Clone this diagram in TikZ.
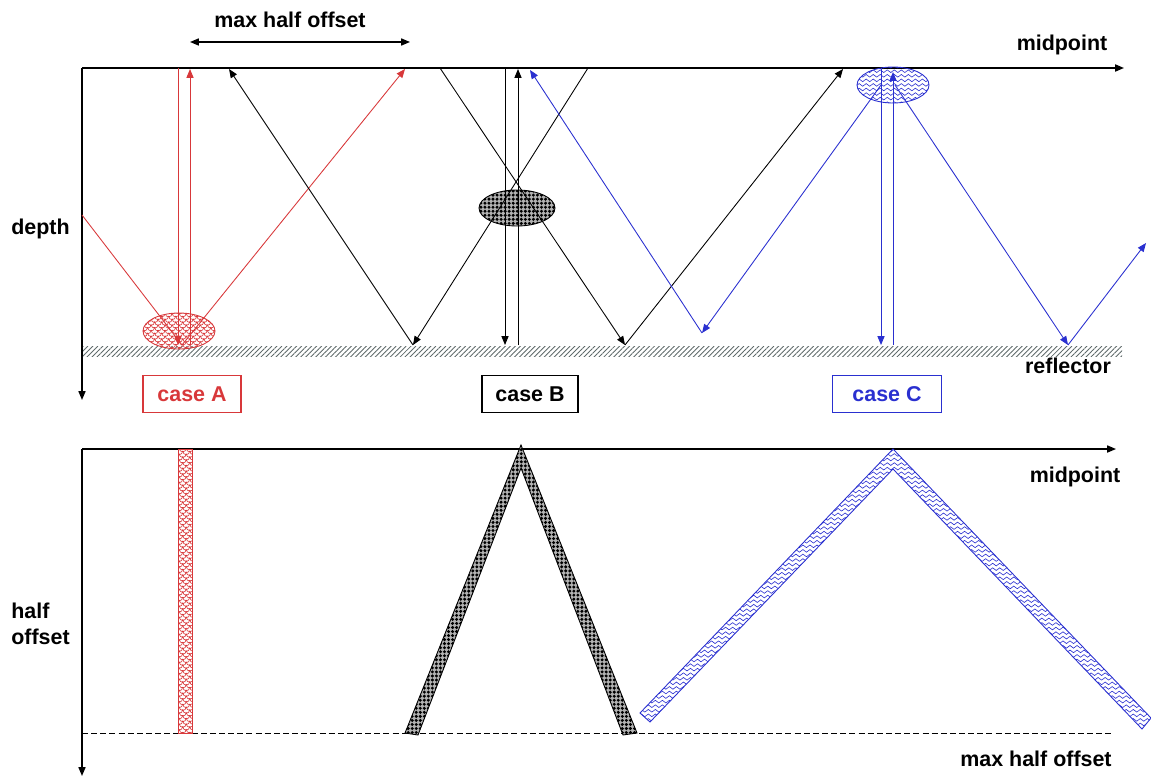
\documentclass[tikz,border=0pt]{standalone}
\usepackage{fontspec}
\setmainfont{Liberation Sans}
\usepackage{xcolor}
\usepackage{tikz}
\usetikzlibrary{arrows.meta,patterns,patterns.meta,calc}
\definecolor{casered}{HTML}{D8383A}
\definecolor{caseblue}{HTML}{2A30D0}
\definecolor{hatchgray}{HTML}{5F6A6A}
% fill patterns for the three cases
\pgfdeclarepatternformonly{scales}{\pgfpoint{-0.5pt}{-0.5pt}}{\pgfpoint{4.5pt}{4.5pt}}{\pgfpoint{4pt}{3.2pt}}{%
  \pgfsetlinewidth{0.35pt}
  \pgfpathmoveto{\pgfpoint{0pt}{3.2pt}}
  \pgfpathcurveto{\pgfpoint{0pt}{0.4pt}}{\pgfpoint{4pt}{0.4pt}}{\pgfpoint{4pt}{3.2pt}}
  \pgfpathmoveto{\pgfpoint{2pt}{1.6pt}}
  \pgfpathcurveto{\pgfpoint{2pt}{-1.2pt}}{\pgfpoint{6pt}{-1.2pt}}{\pgfpoint{6pt}{1.6pt}}
  \pgfpathmoveto{\pgfpoint{-2pt}{1.6pt}}
  \pgfpathcurveto{\pgfpoint{-2pt}{-1.2pt}}{\pgfpoint{2pt}{-1.2pt}}{\pgfpoint{2pt}{1.6pt}}
  \pgfusepath{stroke}}
\pgfdeclarepatternformonly{waves}{\pgfpoint{-0.5pt}{-0.5pt}}{\pgfpoint{4.5pt}{3pt}}{\pgfpoint{4pt}{2.6pt}}{%
  \pgfsetlinewidth{0.35pt}
  \pgfpathmoveto{\pgfpoint{0pt}{1.3pt}}
  \pgfpathcurveto{\pgfpoint{1pt}{2.3pt}}{\pgfpoint{1pt}{2.3pt}}{\pgfpoint{2pt}{1.3pt}}
  \pgfpathcurveto{\pgfpoint{3pt}{0.3pt}}{\pgfpoint{3pt}{0.3pt}}{\pgfpoint{4pt}{1.3pt}}
  \pgfusepath{stroke}}

\begin{document}
\begin{tikzpicture}[x=0.02cm, y=-0.02cm, >={Triangle[length=5pt,width=4pt]},
  lbl/.style={font=\fontsize{12.2}{14.5}\selectfont\bfseries, inner sep=0pt},
  ray/.style={line width=0.5pt},
  axis/.style={line width=0.8pt, ->},
  casebox/.style={draw, line width=0.7pt, lbl, minimum height=0.74cm},
  patA/.style={draw=casered, line width=0.5pt, pattern=scales, pattern color=casered},
  patB/.style={draw=black, line width=0.5pt, preaction={fill=black!30},
               pattern={Dots[distance=2.3pt,radius=0.95pt]}, pattern color=black},
  patC/.style={draw=caseblue, line width=0.5pt, pattern=waves, pattern color=caseblue}]
  \useasboundingbox (0,0) rectangle (1151,777);

  % ---------------- depth section ----------------
  \coordinate (top0) at (82,68);
  \fill[pattern={Lines[angle=45,distance=2pt,line width=0.5pt]}, pattern color=hatchgray]
    (82,346) rectangle (1122,356);
  \draw[axis] (top0) -- (1124,68);
  \draw[axis] (top0) -- (82,400);
  \node[lbl] (midtop) at (1062,45) {midpoint};
  \node[lbl, anchor=west] (depth) at (11,229) {depth};
  \node[lbl] (refl) at (1068,366) {reflector};
  \node[lbl] (maxtop) at (290,20) {max half offset};
  \coordinate (mhL) at (190,42);
  \coordinate (mhR) at (410,42);
  \draw[ray, line width=0.7pt, <->] (mhL) -- (mhR);

  % case A: dipping rays meeting at the reflector
  \draw[patA] (179,331) ellipse [x radius=36, y radius=18];
  \draw[casered, ray] (82,215) -- (182,345);
  \draw[casered, ray, ->] (182,345) -- (405,69);
  \draw[casered, ray, ->] (178,68) -- (178,345);
  \draw[casered, ray, ->] (190,345) -- (190,69);

  % case B: diffractor at half depth
  \draw[patB] (517,208) ellipse [x radius=38, y radius=18];
  \draw[ray, ->] (440,68) -- (625,345);
  \draw[ray, ->] (625,345) -- (843,69);
  \draw[ray, ->] (588,68) -- (413,345);
  \draw[ray, ->] (413,345) -- (229,69);
  \draw[ray, ->] (505,68) -- (505,345);
  \draw[ray, ->] (518,345) -- (518,69);

  % case C: point near the surface
  \draw[caseblue, ray, ->] (881,85) -- (702,333);
  \draw[caseblue, ray, ->] (702,333) -- (530,70);
  \draw[caseblue, ray, ->] (895,85) -- (1068,345);
  \draw[caseblue, ray, ->] (1068,345) -- (1146,243);
  \draw[caseblue, ray, ->] (881,68) -- (881,345);
  \draw[caseblue, ray, ->] (893,345) -- (893,72);
  \draw[patC] (893,85) ellipse [x radius=36, y radius=18];

  \node[casebox, draw=casered, text=casered, minimum width=1.96cm] (caseA) at (192,394) {case A};
  \node[casebox, minimum width=1.92cm] (caseB) at (530,394) {case B};
  \node[casebox, draw=caseblue, text=caseblue, minimum width=2.18cm] (caseC) at (887,394) {case C};

  % ---------------- half offset section ----------------
  \coordinate (bot0) at (82,449);
  \draw[axis] (bot0) -- (1116,449);
  \draw[axis] (bot0) -- (82,776);
  \draw[line width=0.5pt, dash pattern=on 3.4pt off 1.8pt] (82,733) -- (1112,733);
  \node[lbl] (midbot) at (1075,477) {midpoint};
  \node[lbl] (maxbot) at (1036,759) {max half offset};
  \node[lbl, anchor=west, align=left] (hoff) at (11,624) {half\\offset};

  % case A: flat band
  \draw[patA] (178,449) rectangle (192,733);
  % case B: steep chevron
  \draw[patB] (405,733) -- (521,445) -- (637,733) -- (623,735) -- (521,468) -- (418,735) -- cycle;
  % case C: wide chevron
  \draw[patC] (640,713) -- (893,449) -- (1151,718) -- (1142,729) -- (893,469) -- (650,722) -- cycle;
\end{tikzpicture}
\end{document}
